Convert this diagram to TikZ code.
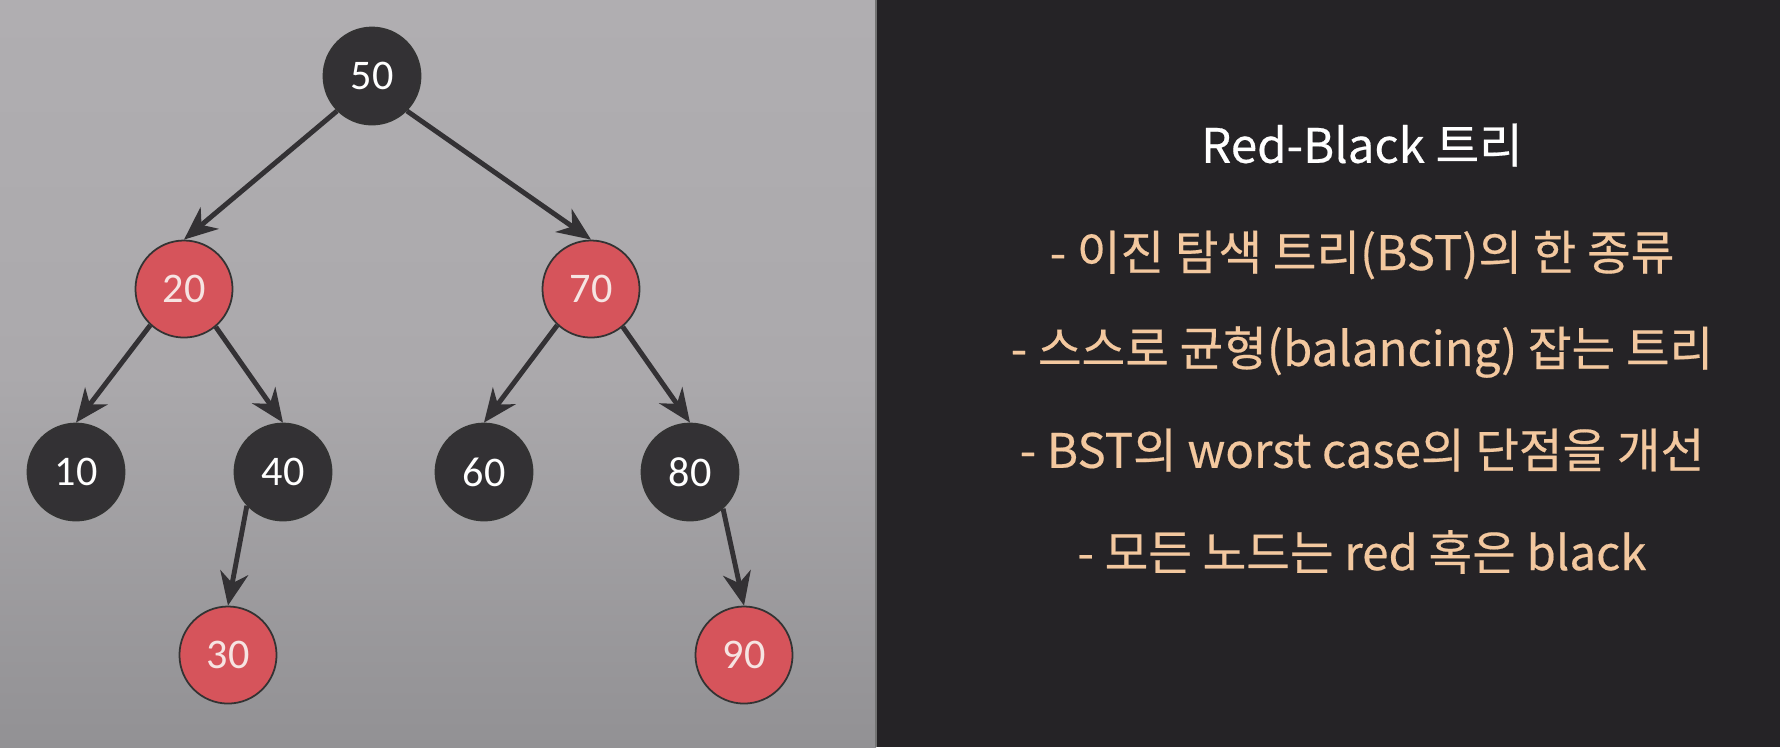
\documentclass[tikz,border=0pt]{standalone}
\usepackage{fontspec}
\setmainfont{Carlito}
\newfontfamily\krfont[FakeBold=0.4]{Noto Sans CJK KR}
\usepackage{tikz}
\usetikzlibrary{arrows.meta,positioning}

\definecolor{bgtop}{HTML}{B0AEB1}
\definecolor{bgmid}{HTML}{ABA9AC}
\definecolor{bgbottom}{HTML}{929194}
\definecolor{panel}{HTML}{252326}
\definecolor{nodeblack}{HTML}{333134}
\definecolor{nodered}{HTML}{D6545B}
\definecolor{redtext}{HTML}{F6E4E2}
\definecolor{linkdark}{HTML}{333134}
\definecolor{peach}{HTML}{F3C89F}

\begin{document}
\begin{tikzpicture}[
  x=0.01cm, y=-0.01cm,
  >={Stealth[length=9.5pt, width=8pt, inset=3pt]},
  bnode/.style={circle, draw=black!80, line width=0.5pt, fill=nodeblack, minimum size=0.97cm,
                inner sep=0pt, text=white, font=\fontsize{12}{14}\selectfont},
  rnode/.style={bnode, fill=nodered, text=redtext},
  link/.style={->, line width=1.4pt, draw=linkdark},
  head/.style={text=white, font=\krfont\fontsize{13.5}{16}\selectfont},
  item/.style={text=peach, font=\krfont\fontsize{13.5}{16}\selectfont},
]

\useasboundingbox (0,0) rectangle (1780,747);
\fill[top color=bgtop, bottom color=bgbottom, middle color=bgmid] (0,0) rectangle (876,747);
\fill[panel] (876,0) rectangle (1780,747);
\draw[black!55, line width=0.6pt] (876,0) -- (876,747);

% tree
\node[bnode] (n50) at (372,76)  {50};
\node[rnode] (n20) at (184,289) {20};
\node[rnode] (n70) at (591,289) {70};
\node[bnode] (n10) at (76,472)  {10};
\node[bnode] (n40) at (283,472) {40};
\node[bnode] (n60) at (484,472) {60};
\node[bnode] (n80) at (690,472) {80};
\node[rnode] (n30) at (228,655) {30};
\node[rnode] (n90) at (744,655) {90};

\draw[link] (n50.-135) -- (n20.north);
\draw[link] (n50.-45)  -- (n70.north);
\draw[link] (n20.-133) -- (n10.north);
\draw[link] (n20.-50)  -- (n40.north);
\draw[link] (n70.-133) -- (n60.north);
\draw[link] (n70.-50)  -- (n80.north);
\draw[link] (n40.-137) -- (n30.north);
\draw[link] (n80.-48)  -- (n90.north);

% text panel
\node[head] (rbtitle) at (1362,145) {Red-Black 트리};
\node[item] (line1) at (1362,255) {- 이진 탐색 트리(BST)의 한 종류};
\node[item] (line2) at (1362,352) {- 스스로 균형(balancing) 잡는 트리};
\node[item] (line3) at (1362,450) {- BST의 worst case의 단점을 개선};
\node[item] (line4) at (1362,552) {- 모든 노드는 red 혹은 black};

\end{tikzpicture}
\end{document}
